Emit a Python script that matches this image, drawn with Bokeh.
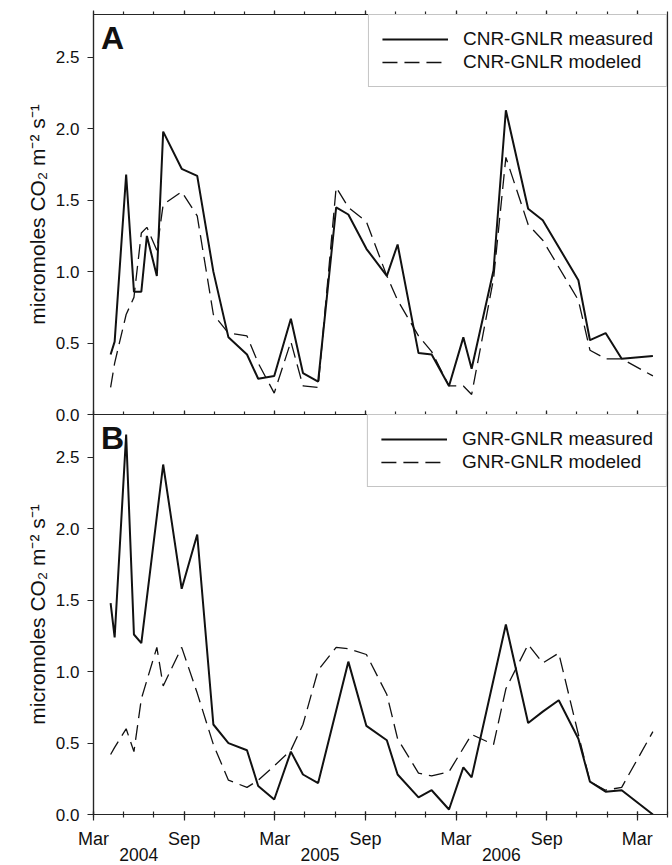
import pandas as pd
from bokeh.plotting import figure
from bokeh.models import (Range1d, FixedTicker, LinearAxis, Legend, LegendItem,
                          Label, PrintfTickFormatter)
from bokeh.layouts import column
from bokeh.embed import file_html
from bokeh.resources import INLINE

# ---------------- data ----------------
dates_A = ["2004-04-05", "2004-04-13", "2004-05-06", "2004-05-22", "2004-06-06", "2004-06-17",
           "2004-07-07", "2004-07-20", "2004-08-27", "2004-09-27", "2004-10-30", "2004-11-29",
           "2005-01-06", "2005-01-29", "2005-02-28", "2005-04-03", "2005-04-27", "2005-05-28",
           "2005-07-03", "2005-07-28", "2005-09-03", "2005-10-14", "2005-11-05", "2005-12-17",
           "2006-01-13", "2006-02-16", "2006-03-16", "2006-04-02", "2006-05-16", "2006-06-10",
           "2006-07-25", "2006-08-24", "2006-11-04", "2006-11-27", "2006-12-29", "2007-01-31",
           "2007-04-02"]
measured_A = [0.42, 0.51, 1.68, 0.86, 0.86, 1.25, 0.97, 1.98, 1.72, 1.67, 1.00, 0.54,
              0.42, 0.25, 0.27, 0.67, 0.29, 0.23, 1.45, 1.40, 1.16, 0.97, 1.19, 0.43,
              0.42, 0.20, 0.54, 0.32, 1.01, 2.13, 1.44, 1.36, 0.94, 0.52, 0.57, 0.39,
              0.41]
modeled_A = [0.19, 0.36, 0.70, 0.82, 1.27, 1.31, 1.15, 1.47, 1.56, 1.39, 0.70, 0.57,
             0.55, 0.36, 0.15, 0.51, 0.20, 0.19, 1.59, 1.45, 1.35, 0.97, 0.80, 0.55,
             0.44, 0.20, 0.20, 0.14, 0.95, 1.80, 1.33, 1.22, 0.80, 0.45, 0.39, 0.39,
             0.27]

dates_B_measured = ["2004-04-05", "2004-04-13", "2004-05-06", "2004-05-22", "2004-06-06",
                    "2004-07-20", "2004-08-27", "2004-09-27", "2004-10-30", "2004-11-29",
                    "2005-01-06", "2005-01-29", "2005-02-28", "2005-04-03", "2005-04-27",
                    "2005-05-28", "2005-07-28", "2005-09-03", "2005-10-14", "2005-11-05",
                    "2005-12-17", "2006-01-13", "2006-02-16", "2006-03-16", "2006-04-02",
                    "2006-06-10", "2006-07-25", "2006-08-24", "2006-09-25", "2006-11-04",
                    "2006-11-27", "2006-12-29", "2007-01-31", "2007-04-02"]
measured_B = [1.48, 1.24, 2.66, 1.26, 1.20, 2.45, 1.58, 1.96, 0.63, 0.50,
              0.45, 0.20, 0.105, 0.44, 0.28, 0.22, 1.07, 0.62, 0.52, 0.28,
              0.12, 0.17, 0.035, 0.33, 0.26, 1.33, 0.64, 0.72, 0.80, 0.53,
              0.23, 0.16, 0.17, 0.0]

dates_B_modeled = ["2004-04-05", "2004-04-13", "2004-05-06", "2004-05-22", "2004-06-06",
                   "2004-07-07", "2004-07-20", "2004-08-27", "2004-09-27", "2004-10-30",
                   "2004-11-29", "2005-01-06", "2005-01-29", "2005-02-28", "2005-04-03",
                   "2005-04-27", "2005-05-28", "2005-07-03", "2005-07-28", "2005-09-03",
                   "2005-10-14", "2005-11-05", "2005-12-17", "2006-01-13", "2006-02-16",
                   "2006-04-02", "2006-05-16", "2006-06-10", "2006-07-25", "2006-08-24",
                   "2006-09-25", "2006-11-04", "2006-11-27", "2006-12-29", "2007-01-31",
                   "2007-04-02"]
modeled_B = [0.42, 0.47, 0.60, 0.44, 0.81, 1.17, 0.90, 1.17, 0.85, 0.49,
             0.24, 0.19, 0.24, 0.34, 0.45, 0.63, 1.01, 1.17, 1.16, 1.12,
             0.84, 0.53, 0.29, 0.27, 0.30, 0.56, 0.49, 0.88, 1.19, 1.06,
             1.13, 0.56, 0.23, 0.17, 0.19, 0.58]

y_ticks = [0.0, 0.5, 1.0, 1.5, 2.0, 2.5]
month_tick_labels = ["Mar", "Sep", "Mar", "Sep", "Mar", "Sep", "Mar"]
year_labels = ["2004", "2005", "2006"]
y_label = "micromoles CO\u2082 m\u207b\u00b2 s\u207b\u00b9"
legend_A = ["CNR-GNLR measured", "CNR-GNLR modeled"]
legend_B = ["GNR-GNLR measured", "GNR-GNLR modeled"]


def month_pos(d):
    """fractional months since 1 March 2004"""
    t = pd.Timestamp(d)
    return (t.year - 2004) * 12 + (t.month - 3) + (t.day - 1) / t.days_in_month


# ---------------- styling ----------------
FONT = "Liberation Sans"
INK = "#111111"
AX = "#262626"
X_END = 38          # May 2007
Y_MAX = 2.8
FRAME_W, FRAME_H = 574, 400
DASH = "15 7"
month_ticks = [6 * i for i in range(len(month_tick_labels))]
minor_ticks = list(range(0, X_END + 1, 2))
year_ticks = [month_pos(f"{y}-06-01") for y in year_labels]


def make_panel(top_border, bottom_border):
    p = figure(frame_width=FRAME_W, frame_height=FRAME_H,
               x_range=Range1d(0, X_END), y_range=Range1d(0, Y_MAX),
               output_backend="svg", toolbar_location=None,
               x_axis_location=None, y_axis_location=None,
               min_border_left=93, min_border_right=4,
               min_border_top=top_border, min_border_bottom=bottom_border)
    p.grid.visible = False
    p.outline_line_color = AX
    p.outline_line_width = 1.2
    p.background_fill_color = "white"
    p.border_fill_color = "white"
    yax = LinearAxis(ticker=FixedTicker(ticks=y_ticks, minor_ticks=[]),
                     formatter=PrintfTickFormatter(format="%.1f"),
                     axis_label=y_label, axis_label_text_font=FONT,
                     axis_label_text_font_size="21px", axis_label_text_font_style="normal",
                     axis_label_text_color=INK, axis_label_standoff=4,
                     major_label_text_font=FONT, major_label_text_font_size="17px",
                     major_label_text_color=INK, major_label_standoff=8,
                     major_tick_in=0, major_tick_out=6, minor_tick_line_color=None,
                     axis_line_color=AX, axis_line_width=1.2, major_tick_line_color=AX,
                     major_tick_line_width=1.2)
    p.add_layout(yax, "left")
    return p


def month_axis(show_labels, major_in, major_out, minor_in, minor_out):
    ax = LinearAxis(ticker=FixedTicker(ticks=month_ticks, minor_ticks=minor_ticks),
                    major_tick_in=major_in, major_tick_out=major_out,
                    minor_tick_in=minor_in, minor_tick_out=minor_out,
                    axis_line_color=AX, axis_line_width=1.2,
                    major_tick_line_color=AX, minor_tick_line_color=AX,
                    major_tick_line_width=1.2, minor_tick_line_width=1.2)
    if show_labels:
        ax.major_label_overrides = dict(zip(month_ticks, month_tick_labels))
        ax.major_label_text_font = FONT
        ax.major_label_text_font_size = "18px"
        ax.major_label_text_color = INK
        ax.major_label_standoff = 8
    else:
        # tick marks only: labels are not painted
        ax.major_label_text_font_size = "1px"
        ax.major_label_text_color = None
        ax.major_label_standoff = 0
    return ax


def add_legend(p, r1, r2, labels):
    leg = Legend(items=[LegendItem(label=labels[0], renderers=[r1]),
                        LegendItem(label=labels[1], renderers=[r2])],
                 location="top_right", margin=0, padding=13, spacing=1,
                 glyph_width=66, glyph_height=22, label_height=22, label_standoff=15,
                 label_text_font=FONT, label_text_font_size="19px", label_text_color=INK,
                 border_line_color="#8a8a8a", border_line_width=1,
                 background_fill_color="white", background_fill_alpha=1.0)
    p.add_layout(leg)


def panel_letter(p, letter):
    p.add_layout(Label(x=0.5, y=2.765, text=letter, text_font=FONT, text_font_style="bold",
                       text_font_size="32px", text_color=INK, text_baseline="top",
                       text_align="left"))


# ---------------- panel A ----------------
p1 = make_panel(top_border=14, bottom_border=10)
p1.add_layout(month_axis(False, 0, 4, 0, 3), "above")
p1.add_layout(month_axis(False, 4, 0, 3, 0), "below")
xa = [month_pos(d) for d in dates_A]
a1 = p1.line(xa, measured_A, line_color=INK, line_width=2)
a2 = p1.line(xa, modeled_A, line_color=INK, line_width=1.3, line_dash=DASH)
add_legend(p1, a1, a2, legend_A)
panel_letter(p1, "A")

# ---------------- panel B ----------------
p2 = make_panel(top_border=0, bottom_border=0)
p2.border_fill_alpha = 0.0
p2.margin = (-10, 0, 0, 0)
p2.add_layout(month_axis(True, 3, 6, 3, 3), "below")
yr = LinearAxis(ticker=FixedTicker(ticks=year_ticks, minor_ticks=[]),
                major_label_overrides=dict(zip(year_ticks, year_labels)),
                axis_line_color=None, major_tick_line_color=None, minor_tick_line_color=None,
                major_tick_in=0, major_tick_out=0, major_label_standoff=-4,
                major_label_text_font=FONT, major_label_text_font_size="17.5px",
                major_label_text_color=INK)
p2.add_layout(yr, "below")
b1 = p2.line([month_pos(d) for d in dates_B_measured], measured_B, line_color=INK, line_width=2)
b2 = p2.line([month_pos(d) for d in dates_B_modeled], modeled_B, line_color=INK,
             line_width=1.3, line_dash=DASH)
add_legend(p2, b1, b2, legend_B)
panel_letter(p2, "B")

layout = column(p1, p2, spacing=0)
open("out.html", "w").write(file_html(layout, INLINE))
